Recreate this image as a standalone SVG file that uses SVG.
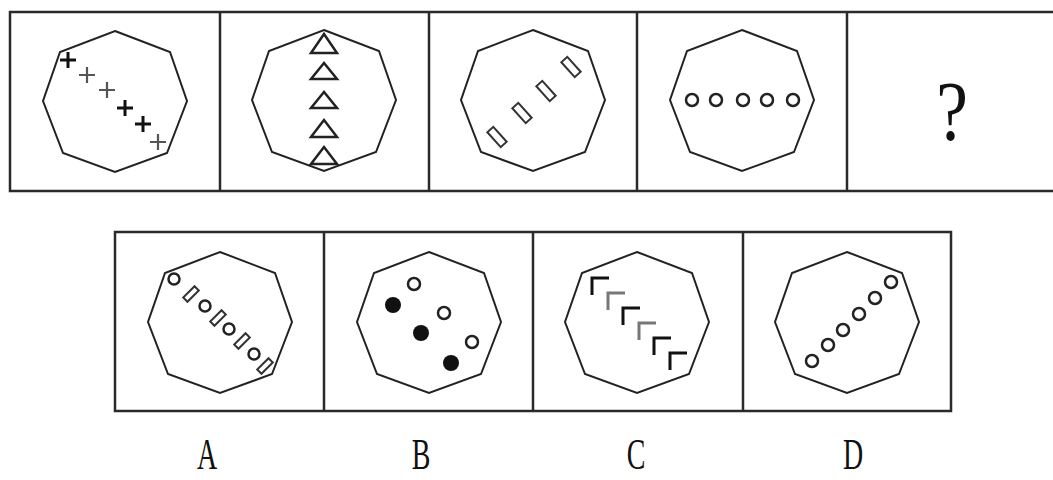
<svg xmlns="http://www.w3.org/2000/svg" xmlns:xlink="http://www.w3.org/1999/xlink" width="1053" height="480" viewBox="0 0 1053 480">
<style>
.frame{fill:none;stroke:#2a2a2a;stroke-width:2.5}
.div{stroke:#2a2a2a;stroke-width:2.5}
.oct{fill:none;stroke:#222;stroke-width:2}
.ring{fill:#fff;stroke:#222;stroke-width:2.5}
.dot{fill:#111}
.tri{fill:#fff;stroke:#222;stroke-width:2.5;stroke-linejoin:miter}
.bar{fill:#fff;stroke:#333;stroke-width:2}
.crossB{stroke:#111;stroke-width:3;fill:none}
.crossL{stroke:#555;stroke-width:2.2;fill:none}
.lB{stroke:#111;stroke-width:3;fill:none}
.lL{stroke:#777;stroke-width:3;fill:none}
.lbl{font-family:"Liberation Serif",serif;fill:#111}
</style>
<defs>
<polygon id="oct" class="oct" points="0,-70 55,-49 72,0 52,52 0,71 -52,52 -72,0 -55,-49"/>
</defs>
<rect width="1053" height="480" fill="#fff"/>
<g id="frames">
<rect class="frame" x="10" y="12" width="1050" height="179"/>
<line class="div" x1="220" y1="12" x2="220" y2="191"/>
<line class="div" x1="429" y1="12" x2="429" y2="191"/>
<line class="div" x1="637" y1="12" x2="637" y2="191"/>
<line class="div" x1="847" y1="12" x2="847" y2="191"/>
<rect class="frame" x="115" y="232" width="836" height="179"/>
<line class="div" x1="324" y1="232" x2="324" y2="411"/>
<line class="div" x1="533" y1="232" x2="533" y2="411"/>
<line class="div" x1="743" y1="232" x2="743" y2="411"/>
</g>
<g id="p1">
<use xlink:href="#oct" x="115" y="101"/>
<path class="crossB" d="M60,60 h16 M68,52 v16"/>
<path class="crossL" d="M79,75 h16 M87,67 v16"/>
<path class="crossL" d="M99,90 h16 M107,82 v16"/>
<path class="crossB" d="M117,108 h16 M125,100 v16"/>
<path class="crossB" d="M135,124 h16 M143,116 v16"/>
<path class="crossL" d="M150,142 h16 M158,134 v16"/>
</g>
<g id="p2">
<use xlink:href="#oct" x="324" y="100"/>
<polygon class="tri" points="324,34 311,53 337,53"/>
<polygon class="tri" points="324,63 311,79 337,79"/>
<polygon class="tri" points="324,92 311,108 337,108"/>
<polygon class="tri" points="324,120 311,137 337,137"/>
<polygon class="tri" points="324,147 311,164 337,164"/>
</g>
<g id="p3">
<use xlink:href="#oct" x="533" y="100"/>
<rect class="bar" x="-10" y="-4" width="20" height="8" transform="translate(571,67) rotate(48)"/>
<rect class="bar" x="-10" y="-4" width="20" height="8" transform="translate(546,91) rotate(48)"/>
<rect class="bar" x="-10" y="-4" width="20" height="8" transform="translate(522,113) rotate(48)"/>
<rect class="bar" x="-10" y="-4" width="20" height="8" transform="translate(497,137) rotate(48)"/>
</g>
<g id="p4">
<use xlink:href="#oct" x="742" y="100"/>
<circle class="ring" cx="692" cy="100" r="6"/>
<circle class="ring" cx="716" cy="100" r="6"/>
<circle class="ring" cx="743" cy="100" r="6"/>
<circle class="ring" cx="767" cy="100" r="6"/>
<circle class="ring" cx="793" cy="100" r="6"/>
</g>
<g id="p5">
<text class="lbl" font-size="84" text-anchor="middle" transform="translate(952,140) scale(0.85,1)">?</text>
</g>
<g id="optA">
<use xlink:href="#oct" x="220" y="322"/>
<circle class="ring" cx="174" cy="279" r="5.5" stroke-width="2"/>
<rect class="bar" x="-8" y="-3" width="16" height="6" transform="translate(191,294) rotate(-45)"/>
<circle class="ring" cx="205" cy="306" r="5.5" stroke-width="2"/>
<rect class="bar" x="-8" y="-3" width="16" height="6" transform="translate(218,318) rotate(-45)"/>
<circle class="ring" cx="229" cy="329" r="5.5" stroke-width="2"/>
<rect class="bar" x="-8" y="-3" width="16" height="6" transform="translate(242,341) rotate(-45)"/>
<circle class="ring" cx="254" cy="354" r="5.5" stroke-width="2"/>
<rect class="bar" x="-8" y="-3" width="16" height="6" transform="translate(265,366) rotate(-45)"/>
</g>
<g id="optB">
<use xlink:href="#oct" x="429" y="322"/>
<circle class="ring" cx="414" cy="284" r="6"/>
<circle class="ring" cx="444" cy="313" r="6"/>
<circle class="ring" cx="472" cy="342" r="6"/>
<circle class="dot" cx="393" cy="305" r="8"/>
<circle class="dot" cx="421" cy="333" r="8"/>
<circle class="dot" cx="451" cy="363" r="8"/>
</g>
<g id="optC">
<use xlink:href="#oct" x="637" y="322"/>
<path class="lB" d="M592,295 V278 H609"/>
<path class="lL" d="M608,310 V293 H625"/>
<path class="lB" d="M623,325 V308 H640"/>
<path class="lL" d="M639,340 V323 H656"/>
<path class="lB" d="M654,355 V338 H671"/>
<path class="lB" d="M670,370 V353 H687"/>
</g>
<g id="optD">
<use xlink:href="#oct" x="847" y="322"/>
<circle class="ring" cx="812" cy="361" r="6"/>
<circle class="ring" cx="828" cy="345" r="6"/>
<circle class="ring" cx="843" cy="330" r="6"/>
<circle class="ring" cx="859" cy="314" r="6"/>
<circle class="ring" cx="875" cy="298" r="6"/>
<circle class="ring" cx="891" cy="282" r="6"/>
</g>
<g id="labels">
<text class="lbl" font-size="40" text-anchor="middle" transform="translate(207,469) scale(0.7,1.1)">A</text>
<text class="lbl" font-size="40" text-anchor="middle" transform="translate(421,469) scale(0.7,1.1)">B</text>
<text class="lbl" font-size="40" text-anchor="middle" transform="translate(636,469) scale(0.7,1.1)">C</text>
<text class="lbl" font-size="40" text-anchor="middle" transform="translate(853,469) scale(0.7,1.1)">D</text>
</g>
</svg>
